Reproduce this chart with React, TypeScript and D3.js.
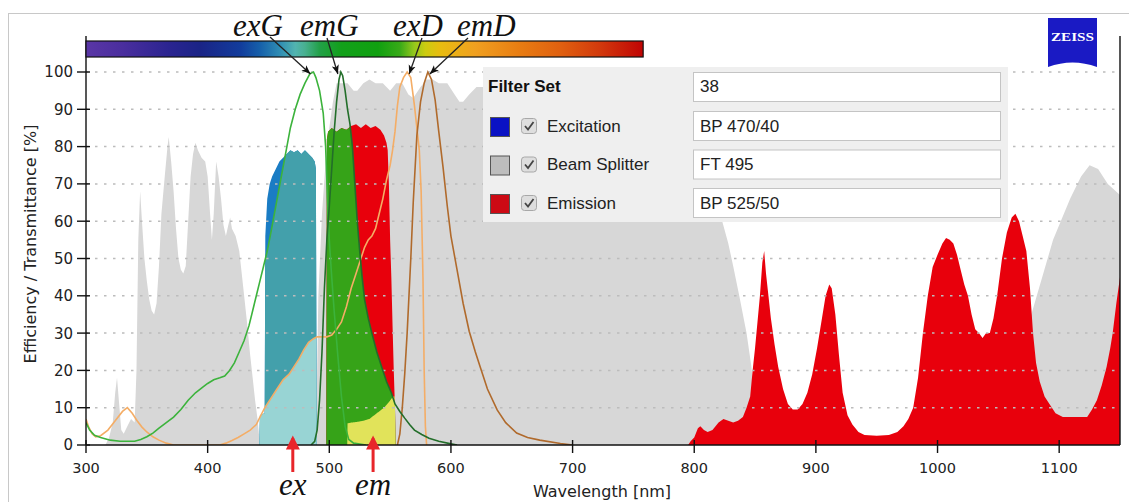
import React, { useEffect } from "react";
import * as d3 from "d3";

type Pt = [number, number];

// ---------- DATA ----------
const beamSplitterFT495: Pt[] = [
  [300, 0], [316, 0], [319, 2], [322, 6], [324, 14], [325.5, 18], [327, 12], [329, 4], [331, 3], [334, 5],
  [337, 7], [340, 6], [341.5, 20], [343, 55], [344.5, 68], [346, 60], [348, 50], [350, 44], [352, 39],
  [354, 36], [356, 35], [358, 38], [360, 48], [362, 62], [365, 73], [367, 80], [368, 82.6], [370, 76],
  [372, 68], [374, 58], [376, 50], [378, 47], [380, 46], [382, 48], [384, 60], [386, 72], [388, 78],
  [390, 81], [392, 79], [395, 77], [398, 76], [400, 72], [402, 62], [403.5, 55], [405, 62], [407, 76],
  [409, 72], [411, 66], [413, 59], [415, 56], [417, 59], [418.5, 61], [420, 58], [423, 56], [426, 52],
  [429, 43], [432, 34], [435, 24], [437, 18], [439, 12], [441, 7], [443, 0], [489, 0], [491, 40],
  [494, 62], [497, 76], [500, 85], [503, 92], [506, 97], [510, 97], [515, 97], [520, 95], [523, 95],
  [528, 97], [533, 98], [538, 97], [544, 97], [550, 95], [555, 97], [560, 97], [565, 94], [569, 93],
  [575, 96], [580, 98], [585, 98], [590, 97], [597, 97], [603, 94], [607, 92], [610, 92], [615, 94],
  [621, 96], [630, 96], [650, 95], [700, 95], [750, 94], [790, 90], [805, 80], [815, 70], [823, 60],
  [828, 54], [832, 48], [837, 40], [843, 30], [847, 21], [850, 10], [852, 0], [1045, 0], [1060, 16],
  [1078, 36], [1095, 55], [1109, 66], [1118, 72], [1125, 75], [1132, 74], [1140, 70], [1150, 67],
];

const excitationBP470: Pt[] = [
  [442.6, 0], [443, 8], [446.9, 8.5], [447.4, 56], [449, 66], [451, 70], [453, 72], [456, 74], [459, 76],
  [462, 77], [465, 78], [468, 79], [471, 78.5], [474, 79], [477, 78], [480, 79], [483, 78], [486, 77],
  [488, 76], [489, 74], [489.6, 0],
];

const emissionBP525: Pt[] = [
  [497.5, 0], [498, 82], [499, 84], [502, 85], [506, 84], [510, 85], [514, 84.5], [518, 85.5],
  [522, 86], [526, 85], [530, 86], [534, 85], [538, 85.5], [542, 84.5], [545, 83], [547, 81],
  [548, 79], [549, 70], [550, 55], [551, 45], [552, 32], [553, 20], [554, 10], [554.5, 0],
  [795, 0], [797, 1], [800, 2], [803, 4.5], [805, 5], [808, 4], [811, 3.5], [815, 4], [820, 6],
  [824, 7], [828, 6.5], [832, 6], [836, 6.5], [840, 7.5], [843, 10], [846, 13], [848, 20], [850, 26],
  [852, 33], [854, 40], [856, 49], [857.5, 52], [859, 46], [861, 40], [863, 34], [866, 27], [869, 21],
  [873, 15], [877, 11], [881, 9.5], [885, 9.5], [889, 11], [893, 14], [897, 19], [901, 26], [905, 34],
  [908, 40], [911, 43], [913, 42], [916, 35], [919, 24], [922, 14], [926, 8], [930, 5.5], [935, 3.5],
  [940, 2.7], [950, 2.5], [960, 2.7], [967, 3.5], [972, 5], [976, 7], [980, 10], [984, 18], [988, 30],
  [992, 40], [996, 47.7], [1000, 51], [1004, 54], [1007, 55.5], [1010, 55], [1013, 54], [1016, 51],
  [1019, 47], [1022, 43], [1025, 40], [1028, 35], [1031, 31], [1034, 30], [1037, 28.7], [1040, 30],
  [1043, 30], [1046, 34], [1049, 40], [1053, 50], [1057, 57], [1061, 61], [1064, 62], [1067, 60],
  [1070, 56], [1073, 52], [1076, 42], [1078.5, 30], [1081, 22], [1084, 17], [1088, 13], [1092, 11],
  [1097, 8.5], [1103, 7.5], [1115, 7.5], [1123, 7.5], [1127, 9.5], [1131, 12], [1135, 16], [1139, 21],
  [1142, 26], [1144, 30], [1147, 38], [1150, 45],
];

const exGFP: Pt[] = [
  [300, 6], [303, 4], [307, 2.6], [312, 2], [320, 1.3], [328, 1], [340, 1], [345, 1.5], [350, 2.2],
  [355, 3.2], [360, 4.5], [366, 6], [372, 7.5], [378, 9.5], [384, 12], [390, 14], [396, 15.5],
  [400, 16.5], [405, 17.5], [410, 18], [414, 18.5], [418, 20], [422, 22], [426, 25], [430, 28],
  [434, 32], [437, 36], [440, 40], [443, 44], [446, 48], [449, 52], [452, 57], [456, 64], [460, 71],
  [464, 78], [468, 85], [472, 90], [476, 94], [480, 97], [484, 99.5], [487, 100], [489, 98.5],
  [492, 95], [495, 89], [497, 80], [498.5, 66], [500, 55], [502, 45], [504, 36], [507, 24], [510, 13],
  [513, 5], [516, 1.5], [520, 0.5], [530, 0],
];

const emGFP: Pt[] = [
  [485, 0], [488, 1], [490, 4], [492, 12], [494, 25], [496, 42], [498, 55], [500, 64], [502, 74],
  [504, 84], [506, 92], [508, 98], [509.5, 100], [511, 99], [513, 95], [515, 90], [517, 86], [519, 80],
  [521, 70], [523, 60], [525, 52], [527, 45], [529, 39], [532, 34], [535, 30], [539, 25], [543, 21],
  [547, 17], [551, 14], [554, 11], [558, 9], [562, 7.2], [566, 5.5], [570, 4], [576, 2.8], [582, 1.8],
  [590, 1], [600, 0.3], [605, 0],
];

const exDsRed: Pt[] = [
  [300, 7], [302, 5], [305, 3], [308, 2.2], [312, 2.5], [318, 4], [324, 6.5], [330, 9], [334, 10],
  [338, 8.5], [342, 6.5], [346, 4.8], [350, 3.5], [355, 2.2], [360, 1.3], [366, 0.5], [372, 0],
  [410, 0], [415, 0.5], [420, 1.2], [425, 2], [430, 3], [435, 4], [440, 5.5], [443, 7.5], [447, 10],
  [452, 12.5], [457, 15], [462, 17.5], [467, 19], [471, 21], [475, 23], [479, 25.5], [483, 27.5],
  [487, 28.5], [490, 29], [494, 29], [498, 29], [502, 29.5], [506, 31], [510, 33], [514, 37],
  [518, 42], [522, 46], [526, 50], [529, 53], [532, 55], [535, 56], [538, 58], [541, 62], [544, 66],
  [547, 71], [550, 75], [552, 79], [554, 84], [556, 91], [558, 96], [561, 98.5], [564, 100],
  [567, 98.5], [570, 91], [572, 85], [574, 79], [575.5, 68], [577, 45], [578, 20], [579, 5], [580, 0],
];

const emDsRed: Pt[] = [
  [556, 0], [558, 3], [560, 10], [562, 19], [564, 30], [567, 50], [569, 65], [572, 83], [575, 92],
  [578, 97], [581, 100], [584, 98], [587, 92.5], [590, 84], [593.5, 74.5], [597, 64], [600, 56],
  [605, 47], [610, 38], [615, 30.5], [620, 25], [624, 21], [630, 15], [638, 9.4], [645, 6],
  [654, 3.2], [663, 2], [673, 1.3], [690, 0.4], [700, 0],
];

// DsRed signal collected through the emission filter (yellow)
const emDsRedLeak: Pt[] = [
  [514.9, 0], [515, 5.8], [518, 6], [523, 6.2], [528, 6.5], [533, 7], [537, 8], [541, 9], [545, 10],
  [549, 11.5], [552, 12.8], [555, 13.5],
];

const spectrumStops: [number, string][] = [
  [300, "#5a36a6"], [330, "#4a2e9e"], [369, "#2a2490"], [394, "#1a2486"], [427, "#123c9c"],
  [443, "#1660aa"], [459, "#2e8cb4"], [472, "#52b4b0"], [480, "#48b090"], [492, "#22a048"],
  [510, "#12a01a"], [540, "#10a010"], [558, "#38aa18"], [570, "#96c81c"], [579, "#cccc10"],
  [591, "#e8bc10"], [620, "#f0a020"], [657, "#e87c12"], [690, "#e06010"], [722, "#d23a0c"],
  [758, "#c00404"],
];

const xTicks = [300, 400, 500, 600, 700, 800, 900, 1000, 1100];
const yTicks = [0, 10, 20, 30, 40, 50, 60, 70, 80, 90, 100];
const filterSetName = "38";
const legendRows = [
  { label: "Excitation", value: "BP 470/40", color: "#0a12c4" },
  { label: "Beam Splitter", value: "FT 495", color: "#bdbdbd" },
  { label: "Emission", value: "BP 525/50", color: "#cc0a14" },
];
const peakLabels = ["exG", "emG", "exD", "emD"];
const bottomLabels = [{ text: "ex", nm: 470 }, { text: "em", nm: 536 }];

// ---------- HELPERS ----------
function interp(s: Pt[], x: number): number {
  if (x < s[0][0] || x > s[s.length - 1][0]) return 0;
  const i = d3.bisector((d: Pt) => d[0]).left(s, x);
  if (s[i][0] === x) return s[i][1];
  const a = s[i - 1], b = s[i];
  return a[1] + ((b[1] - a[1]) * (x - a[0])) / (b[0] - a[0]);
}
function combine(a: Pt[], fb: (x: number) => number, lo: number, hi: number): Pt[] {
  const xs = new Set<number>();
  a.forEach((d) => { if (d[0] >= lo && d[0] <= hi) xs.add(d[0]); });
  for (let x = lo; x <= hi; x += 0.25) xs.add(+x.toFixed(2));
  return Array.from(xs).sort((p, q) => p - q).map((x) => [x, Math.min(interp(a, x), fb(x))] as Pt);
}
function peakOf(s: Pt[]): Pt {
  return s.reduce((m, d) => (d[1] > m[1] ? d : m), s[0]);
}

export default function App() {
  useEffect(() => { document.body.style.margin = "0"; }, []);
  const W = 1129, H = 502;
  const x = d3.scaleLinear().domain([300, 1150]).range([86, 1120]);
  const y = d3.scaleLinear().domain([0, 100]).range([445, 72]);
  const area = d3.area<Pt>().x((d) => x(d[0])).y0(y(0)).y1((d) => y(d[1]));
  const line = d3.line<Pt>().x((d) => x(d[0])).y((d) => y(d[1]));

  const teal = combine(excitationBP470, (v) => interp(exGFP, v), 442, 490);
  const lightTeal = combine(excitationBP470, (v) => interp(exDsRed, v), 442, 490);
  const emGPeak = peakOf(emGFP);
  const emGEnv = (v: number) => (v <= emGPeak[0] ? emGPeak[1] : interp(emGFP, v));
  const green = combine(emissionBP525, emGEnv, 497, 556);
  const yellow = combine(emissionBP525, (v) => interp(emDsRedLeak, v), 514, 556);

  const font = "'DejaVu Sans', Verdana, sans-serif";
  const lfont = "'Liberation Sans', Arial, sans-serif";
  const sfont = "'Liberation Serif', 'Times New Roman', serif";

  const specLo = spectrumStops[0][0], specHi = spectrumStops[spectrumStops.length - 1][0];

  const peaks = [peakOf(exGFP), emGPeak, peakOf(exDsRed), peakOf(emDsRed)];
  const labelX = [233, 300, 393, 457];
  const arrowStart = [[270, 37], [327, 38], [422, 38], [468, 38]];

  return (
    <svg width={W} height={H} style={{ position: "absolute", left: 0, top: 0, background: "#fff" }}>
      <defs>
        <linearGradient id="spec" x1="0" x2="1" y1="0" y2="0">
          {spectrumStops.map(([nm, c], i) => (
            <stop key={i} offset={(nm - specLo) / (specHi - specLo)} stopColor={c} />
          ))}
        </linearGradient>
        <clipPath id="plot"><rect x={86} y={36} width={1034} height={409} /></clipPath>
        <marker id="ah" viewBox="0 0 10 10" refX="10" refY="5" markerWidth="9" markerHeight="9" orient="auto-start-reverse" markerUnits="userSpaceOnUse">
          <path d="M0,1 L10,5 L0,9 L2.5,5 Z" fill="#111" />
        </marker>
        <marker id="rah" viewBox="0 0 10 10" refX="8" refY="5" markerWidth="15" markerHeight="14" orient="auto" markerUnits="userSpaceOnUse">
          <path d="M0,0 L10,5 L0,10 Z" fill="#e8262a" />
        </marker>
      </defs>
      <rect x={8.5} y={13.5} width={1130} height={500} fill="#fff" stroke="#c8c8c8" />

      <g clipPath="url(#plot)">
        <path d={area(beamSplitterFT495)!} fill="#d7d7d7" />
        <path d={area(excitationBP470)!} fill="#1a7cc4" />
        <path d={area(teal)!} fill="#43a0ab" />
        <path d={area(lightTeal)!} fill="#98d4d4" />
        <path d={area(emissionBP525)!} fill="#e8000c" />
        <path d={area(green)!} fill="#36a318" />
        <path d={area(yellow)!} fill="#e1e35a" />
      </g>

      {yTicks.filter((t) => t > 0).map((t) => (
        <line key={t} x1={86} x2={1120} y1={y(t)} y2={y(t)} stroke="#bcbcbc" strokeWidth={1.5} strokeDasharray="2.5,6.5" />
      ))}

      <g clipPath="url(#plot)" fill="none" strokeWidth={1.6}>
        <path d={line(exDsRed)!} stroke="#f4ad66" />
        <path d={line(emDsRed)!} stroke="#b06a2c" />
        <path d={line(exGFP)!} stroke="#3cb33c" />
        <path d={line(emGFP)!} stroke="#236e2a" />
      </g>

      {/* axes */}
      <line x1={86} x2={86} y1={36} y2={445} stroke="#111" strokeWidth={1.4} />
      <line x1={1120} x2={1120} y1={36} y2={445} stroke="#111" strokeWidth={1.4} />
      <line x1={86} x2={1120} y1={445} y2={445} stroke="#111" strokeWidth={1.4} />
      {yTicks.map((t) => (
        <g key={t}>
          <line x1={77} x2={90} y1={y(t)} y2={y(t)} stroke="#111" strokeWidth={1.4} />
          <text x={73} y={y(t)} dy="0.36em" textAnchor="end" fontFamily={font} fontSize={15} fill="#222">{t}</text>
        </g>
      ))}
      {xTicks.map((t) => (
        <g key={t}>
          <line x1={x(t)} x2={x(t)} y1={440} y2={453} stroke="#111" strokeWidth={1.4} />
          <text x={x(t)} y={473} textAnchor="middle" fontFamily={font} fontSize={14.5} fill="#222">{t}</text>
        </g>
      ))}
      <text x={602} y={497} textAnchor="middle" fontFamily={font} fontSize={16} fill="#222">Wavelength [nm]</text>
      <text transform="translate(36,244) rotate(-90)" textAnchor="middle" fontFamily={font} fontSize={16} fill="#222">Efficiency / Transmittance [%]</text>

      {/* spectrum bar */}
      <rect x={x(specLo)} y={41} width={x(specHi) - x(specLo)} height={16} fill="url(#spec)" stroke="#111" strokeWidth={1.2} />

      {/* legend */}
      <rect x={483} y={67} width={525} height={155} fill="#efefef" />
      <text x={488} y={92} fontFamily={lfont} fontWeight="bold" fontSize={17} fill="#111">Filter Set</text>
      <rect x={693.5} y={72.5} width={307} height={29} fill="#fff" stroke="#c4c4c4" />
      <text x={700} y={92} fontFamily={lfont} fontSize={17} fill="#222">{filterSetName}</text>
      {legendRows.map((r, i) => {
        const top = 111 + i * 38.5;
        return (
          <g key={r.label}>
            <rect x={490.5} y={top + 6.5} width={19} height={19} fill={r.color} stroke="#555" />
            <rect x={521.5} y={top + 7.5} width={15} height={15} rx={3} fill="#dedede" stroke="#a8a8a8" />
            <path d={`M${525},${top + 15} L${528},${top + 18.5} L${533.5},${top + 11}`} fill="none" stroke="#444" strokeWidth={1.8} />
            <text x={547} y={top + 20.5} fontFamily={lfont} fontSize={17} fill="#222">{r.label}</text>
            <rect x={693.5} y={top + 0.5} width={307} height={29} fill="#fff" stroke="#c4c4c4" />
            <text x={700} y={top + 20.5} fontFamily={lfont} fontSize={17} fill="#222">{r.value}</text>
          </g>
        );
      })}

      {/* peak annotations */}
      {peakLabels.map((lab, i) => (
        <g key={lab}>
          <text x={labelX[i]} y={36} fontFamily={sfont} fontStyle="italic" fontSize={31} fill="#111">{lab}</text>
          <line x1={arrowStart[i][0]} y1={arrowStart[i][1]} x2={x(peaks[i][0]) + (i < 2 ? -3 : 2)} y2={y(peaks[i][1]) + 2}
            stroke="#222" strokeWidth={1.3} markerEnd="url(#ah)" />
        </g>
      ))}
      {bottomLabels.map((b) => (
        <g key={b.text}>
          <line x1={x(b.nm)} x2={x(b.nm)} y1={472} y2={y(5) + 12} stroke="#e8262a" strokeWidth={3} markerEnd="url(#rah)" />
          <text x={x(b.nm)} y={495} textAnchor="middle" fontFamily={sfont} fontStyle="italic" fontSize={31} fill="#111">{b.text}</text>
        </g>
      ))}

      {/* ZEISS logo */}
      <path d="M1048,18 H1097 V67 Q1072.5,58 1048,67 Z" fill="#1a1ac4" />
      <text x={1072.5} y={41} textAnchor="middle" fontFamily={sfont} fontWeight="bold" fontSize={13} fill="#fff" textLength={43} lengthAdjust="spacingAndGlyphs">ZEISS</text>
    </svg>
  );
}
